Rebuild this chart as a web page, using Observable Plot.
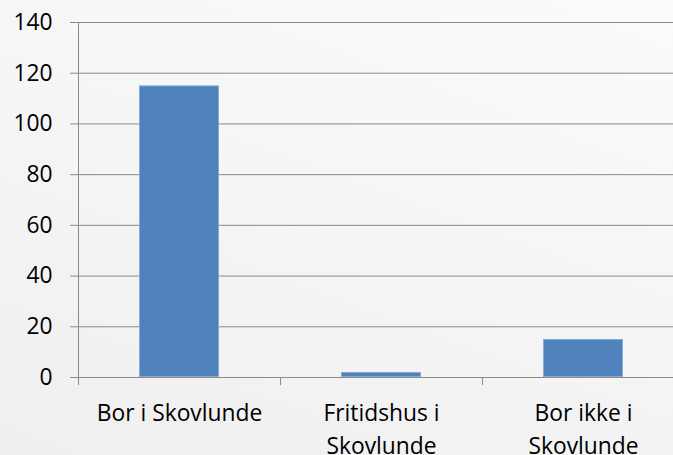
<!DOCTYPE html>
<html>
<head>
<meta charset="utf-8">
<script src="https://cdn.jsdelivr.net/npm/d3@7"></script>
<script src="https://cdn.jsdelivr.net/npm/@observablehq/plot@0.6"></script>
<style>
  html, body { margin: 0; padding: 0; overflow: hidden; }
  body {
    width: 673px; height: 455px;
    background: linear-gradient(20deg, #efefef 0%, #f5f5f5 50%, #fbfbfb 100%);
  }
  #chart svg { display: block; }
</style>
</head>
<body>
<div id="chart"></div>
<script>
const categories = ["Bor i Skovlunde", "Fritidshus i\nSkovlunde", "Bor ikke i\nSkovlunde"];
const values = [115, 2, 15];
const yTicks = [0, 20, 40, 60, 80, 100, 120, 140];

const data = categories.map((c, i) => ({i, category: c, value: values[i]}));
const boundaries = d3.range(categories.length + 1).map(k => k - 0.5);

const gridColor = "#8a8a8a";
const fontFamily = "'Open Sans', 'Noto Sans', sans-serif";
const fs = 22.8;
const lineH = 33;
const halfBar = 0.198;

const chart = Plot.plot({
  width: 673,
  height: 455,
  marginLeft: 78,
  marginRight: 0,
  marginTop: 22,
  marginBottom: 78,
  style: {background: "transparent", fontFamily, fontSize: fs + "px", color: "#000", overflow: "visible"},
  x: {type: "linear", domain: [-0.5, categories.length - 0.5], range: [78, 684], label: null},
  y: {domain: [0, 140], label: null},
  marks: [
    Plot.ruleY(yTicks, {stroke: gridColor, strokeWidth: 1}),
    Plot.ruleX([-0.5], {y1: 0, y2: 140, stroke: gridColor}),
    Plot.axisY({ticks: yTicks, label: null, tickSize: 8, tickPadding: 18, stroke: gridColor, fill: "#000", fontSize: fs, tickFormat: d => String(d)}),
    Plot.axisX({ticks: boundaries, label: null, tickSize: 8, stroke: gridColor, tickFormat: () => ""}),
    Plot.axisX({ticks: d3.range(categories.length), label: null, tickSize: 0, tickPadding: 20, fill: "#000", fontSize: fs, lineHeight: lineH / fs, tickFormat: i => categories[i]}),
    Plot.rectY(data, {x1: d => d.i - halfBar, x2: d => d.i + halfBar, y: "value", fill: "#4f81bd", stroke: "#8aaad6", strokeWidth: 1, inset: 0.5})
  ]
});
document.getElementById("chart").appendChild(chart);
</script>
</body>
</html>
